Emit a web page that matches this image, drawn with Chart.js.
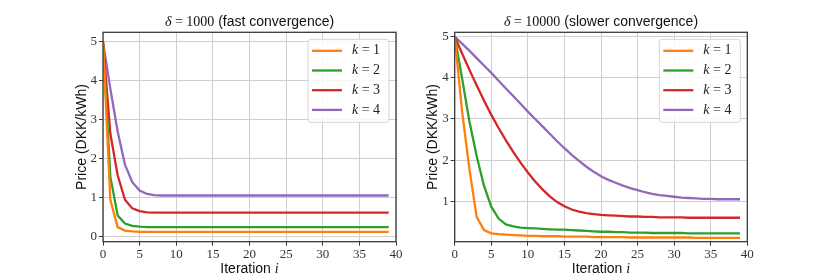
<!DOCTYPE html>
<html>
<head>
<meta charset="utf-8">
<script src="https://cdn.jsdelivr.net/npm/chart.js@4.4.1/dist/chart.umd.min.js"></script>
<style>
  html, body { margin: 0; padding: 0; background: #fff; }
  #wrap { position: relative; width: 830px; height: 277px; }
  #wrap canvas { position: absolute; top: 0; }
</style>
</head>
<body>
<div id="wrap">
  <canvas id="fastChart" width="415" height="277" style="left:0"></canvas>
  <canvas id="slowChart" width="415" height="277" style="left:415px"></canvas>
</div>
<script>
const iterations = [0, 1, 2, 3, 4, 5, 6, 7, 8, 9, 10, 11, 12, 13, 14, 15, 16, 17, 18, 19,
    20, 21, 22, 23, 24, 25, 26, 27, 28, 29, 30, 31, 32, 33, 34, 35, 36, 37, 38, 39];
const kValues = [1, 2, 3, 4];
const colors = ['#ff7f0e', '#2ca02c', '#d62728', '#9467bd'];
const xTicks = [0, 5, 10, 15, 20, 25, 30, 35, 40];
const fastYTicks = [0, 1, 2, 3, 4, 5];
const slowYTicks = [1, 2, 3, 4, 5];

// delta = 1000
const fastK1 = [5.00, 0.95, 0.25, 0.16, 0.14, 0.13, 0.13, 0.13, 0.13, 0.13,
    0.13, 0.13, 0.13, 0.13, 0.13, 0.13, 0.13, 0.13, 0.13, 0.13,
    0.13, 0.13, 0.13, 0.13, 0.13, 0.13, 0.13, 0.13, 0.13, 0.13,
    0.13, 0.13, 0.13, 0.13, 0.13, 0.13, 0.13, 0.13, 0.13, 0.13];
const fastK2 = [5.00, 1.55, 0.55, 0.34, 0.28, 0.26, 0.25, 0.25, 0.25, 0.25,
    0.25, 0.25, 0.25, 0.25, 0.25, 0.25, 0.25, 0.25, 0.25, 0.25,
    0.25, 0.25, 0.25, 0.25, 0.25, 0.25, 0.25, 0.25, 0.25, 0.25,
    0.25, 0.25, 0.25, 0.25, 0.25, 0.25, 0.25, 0.25, 0.25, 0.25];
const fastK3 = [5.00, 2.65, 1.58, 0.95, 0.73, 0.66, 0.63, 0.62, 0.62, 0.62,
    0.62, 0.62, 0.62, 0.62, 0.62, 0.62, 0.62, 0.62, 0.62, 0.62,
    0.62, 0.62, 0.62, 0.62, 0.62, 0.62, 0.62, 0.62, 0.62, 0.62,
    0.62, 0.62, 0.62, 0.62, 0.62, 0.62, 0.62, 0.62, 0.62, 0.62];
const fastK4 = [5.00, 3.80, 2.70, 1.85, 1.40, 1.19, 1.10, 1.07, 1.06, 1.06,
    1.06, 1.06, 1.06, 1.06, 1.06, 1.06, 1.06, 1.06, 1.06, 1.06,
    1.06, 1.06, 1.06, 1.06, 1.06, 1.06, 1.06, 1.06, 1.06, 1.06,
    1.06, 1.06, 1.06, 1.06, 1.06, 1.06, 1.06, 1.06, 1.06, 1.06];

// delta = 10000
const slowK1 = [5.00, 3.20, 1.80, 0.62, 0.30, 0.22, 0.20, 0.19, 0.18, 0.17,
    0.16, 0.16, 0.15, 0.15, 0.15, 0.14, 0.14, 0.14, 0.14, 0.13,
    0.13, 0.13, 0.13, 0.13, 0.12, 0.12, 0.12, 0.12, 0.12, 0.12,
    0.12, 0.12, 0.12, 0.11, 0.11, 0.11, 0.11, 0.11, 0.11, 0.11];
const slowK2 = [5.00, 4.00, 2.95, 2.10, 1.38, 0.87, 0.58, 0.44, 0.39, 0.36,
    0.35, 0.34, 0.33, 0.32, 0.31, 0.31, 0.30, 0.29, 0.28, 0.27,
    0.26, 0.26, 0.25, 0.25, 0.24, 0.24, 0.24, 0.23, 0.23, 0.23,
    0.23, 0.23, 0.22, 0.22, 0.22, 0.22, 0.22, 0.22, 0.22, 0.22];
const slowK3 = [5.00, 4.60, 4.20, 3.82, 3.45, 3.10, 2.78, 2.48, 2.20, 1.94,
    1.70, 1.48, 1.29, 1.12, 0.98, 0.88, 0.80, 0.75, 0.71, 0.69,
    0.67, 0.66, 0.65, 0.64, 0.63, 0.63, 0.62, 0.62, 0.61, 0.61,
    0.61, 0.61, 0.60, 0.60, 0.60, 0.60, 0.60, 0.60, 0.60, 0.60];
const slowK4 = [5.00, 4.83, 4.66, 4.48, 4.30, 4.12, 3.93, 3.74, 3.56, 3.37,
    3.18, 3.00, 2.82, 2.64, 2.46, 2.29, 2.13, 1.98, 1.84, 1.72,
    1.61, 1.52, 1.45, 1.38, 1.32, 1.27, 1.22, 1.18, 1.15, 1.13,
    1.11, 1.09, 1.08, 1.07, 1.06, 1.06, 1.05, 1.05, 1.05, 1.05];

const SERIF = '"Liberation Serif", "DejaVu Serif", serif';
const SANS = '"Liberation Sans", Arial, sans-serif';

// draws a row of text pieces in different fonts, centred on cx
function drawRuns(ctx, runs, cx, y) {
    let total = 0;
    runs.forEach(r => { ctx.font = r.font; r.w = ctx.measureText(r.text).width; total += r.w; });
    let x = cx - total / 2;
    ctx.textAlign = 'left';
    runs.forEach(r => { ctx.font = r.font; ctx.fillText(r.text, x, y); x += r.w; });
}

const decorPlugin = {
    id: 'decor',
    afterDraw(chart, args, opts) {
        const { ctx, chartArea: a } = chart;
        const cx = (a.left + a.right) / 2;
        ctx.save();

        // axes frame
        ctx.strokeStyle = '#3a3a3a';
        ctx.lineWidth = 1.3;
        ctx.strokeRect(a.left, a.top, a.right - a.left, a.bottom - a.top);

        // legend box, top right inside the axes
        const bx = a.right - 88, by = a.top + 7, bw = 81, bh = 83;
        ctx.beginPath();
        ctx.roundRect(bx, by, bw, bh, 3);
        ctx.fillStyle = 'rgba(255,255,255,0.85)';
        ctx.fill();
        ctx.strokeStyle = '#d6d6d6';
        ctx.lineWidth = 1;
        ctx.stroke();
        ctx.textBaseline = 'middle';
        kValues.forEach((k, i) => {
            const ly = by + 11.5 + i * 19.7;
            ctx.strokeStyle = colors[i];
            ctx.lineWidth = 2.3;
            ctx.beginPath();
            ctx.moveTo(bx + 4, ly);
            ctx.lineTo(bx + 34, ly);
            ctx.stroke();
            ctx.fillStyle = '#222';
            ctx.textAlign = 'left';
            ctx.font = 'italic 14px ' + SERIF;
            ctx.fillText('k', bx + 44, ly);
            const kw = ctx.measureText('k').width;
            ctx.font = '14px ' + SERIF;
            ctx.fillText(' = ' + k, bx + 44 + kw, ly);
        });

        // title
        ctx.fillStyle = '#111';
        ctx.textBaseline = 'alphabetic';
        drawRuns(ctx, [
            { text: 'δ', font: 'italic 14px ' + SERIF },
            { text: ' = ' + opts.delta, font: '14px ' + SERIF },
            { text: ' (' + opts.note + ')', font: '14px ' + SANS }
        ], cx, 26);

        // x axis title
        ctx.textBaseline = 'middle';
        drawRuns(ctx, [
            { text: 'Iteration ', font: '14px "Liberation Sans Narrow", ' + SANS },
            { text: 'i', font: 'italic 14px ' + SERIF }
        ], cx, 269);

        ctx.restore();
    }
};

function renderPriceChart(canvasId, cfg) {
    const ctx = document.getElementById(canvasId).getContext('2d');
    const series = [cfg.k1, cfg.k2, cfg.k3, cfg.k4];
    new Chart(ctx, {
        type: 'line',
        data: {
            datasets: series.map((vals, i) => ({
                label: 'k = ' + kValues[i],
                data: iterations.map((it, j) => ({ x: it, y: vals[j] })),
                borderColor: colors[i],
                backgroundColor: colors[i],
                borderWidth: 2.3,
                pointRadius: 0,
                tension: 0,
                fill: false
            }))
        },
        options: {
            responsive: false,
            animation: false,
            devicePixelRatio: 1,
            layout: { padding: { left: 0, right: cfg.padRight, top: 32.3, bottom: 0 } },
            scales: {
                x: {
                    type: 'linear',
                    min: 0,
                    max: 40,
                    afterFit: (scale) => { scale.height = 35.3; },
                    afterBuildTicks: (scale) => { scale.ticks = xTicks.map(v => ({ value: v })); },
                    grid: { color: '#cfcfcf', lineWidth: 1, tickColor: '#3a3a3a', tickLength: 4 },
                    border: { display: false },
                    ticks: {
                        autoSkip: false,
                        maxRotation: 0,
                        padding: 1,
                        color: '#333',
                        font: { family: SERIF, size: 13 }
                    }
                },
                y: {
                    min: cfg.yMin,
                    max: cfg.yMax,
                    afterFit: (scale) => { scale.width = cfg.yWidth; },
                    afterBuildTicks: (scale) => { scale.ticks = cfg.yTicks.map(v => ({ value: v })); },
                    grid: { color: '#cfcfcf', lineWidth: 1, tickColor: '#3a3a3a', tickLength: 4 },
                    border: { display: false },
                    ticks: {
                        padding: 2,
                        color: '#333',
                        font: { family: SERIF, size: 13 }
                    },
                    title: {
                        display: true,
                        text: 'Price (DKK/kWh)',
                        color: '#111',
                        font: { family: SANS, size: 14 },
                        padding: { top: cfg.yTitlePad, bottom: 0 }
                    }
                }
            },
            plugins: {
                legend: { display: false },
                tooltip: { enabled: false },
                decor: { delta: cfg.delta, note: cfg.note }
            }
        },
        plugins: [decorPlugin]
    });
}

document.addEventListener('DOMContentLoaded', () => {
    renderPriceChart('fastChart', {
        k1: fastK1, k2: fastK2, k3: fastK3, k4: fastK4,
        delta: '1000', note: 'fast convergence',
        yMin: -0.124, yMax: 5.244, yTicks: fastYTicks,
        yWidth: 103, yTitlePad: 74, padRight: 19
    });
    renderPriceChart('slowChart', {
        k1: slowK1, k2: slowK2, k3: slowK3, k4: slowK4,
        delta: '10000', note: 'slower convergence',
        yMin: 0.018, yMax: 5.107, yTicks: slowYTicks,
        yWidth: 39.7, yTitlePad: 9.4, padRight: 82.7
    });
});
</script>
</body>
</html>
